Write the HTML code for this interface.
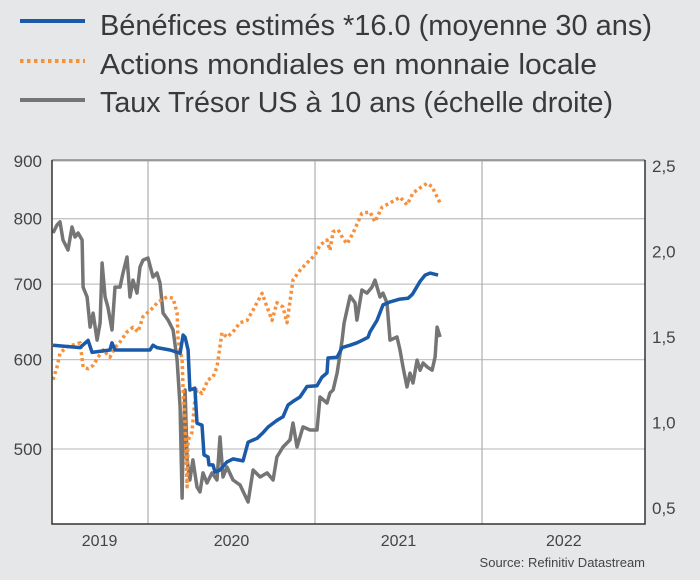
<!DOCTYPE html>
<html><head><meta charset="utf-8"><style>
html,body{margin:0;padding:0;background:#e6e7e9;}
svg{display:block;font-family:"Liberation Sans",sans-serif;}
</style></head><body>
<svg id="chart" width="700" height="580" viewBox="0 0 700 580">
<rect x="0" y="0" width="700" height="580" fill="#e6e7e9"/>
<g>
 <g>
  <line x1="20" y1="21" x2="85" y2="21" stroke="#1a5aa8" stroke-width="4"/>
  <text x="100" y="35" font-size="29" fill="#3a3a3a" textLength="552" lengthAdjust="spacingAndGlyphs">Bénéfices estimés *16.0 (moyenne 30 ans)</text>
 </g>
 <g>
  <line x1="20" y1="61" x2="85" y2="61" stroke="#f7903a" stroke-width="4" stroke-dasharray="3.5,3.5"/>
  <text x="100" y="74" font-size="29" fill="#3a3a3a" textLength="497" lengthAdjust="spacingAndGlyphs">Actions mondiales en monnaie locale</text>
 </g>
 <g>
  <line x1="20" y1="100" x2="85" y2="100" stroke="#757575" stroke-width="4"/>
  <text x="100" y="112" font-size="29" fill="#3a3a3a" textLength="513" lengthAdjust="spacingAndGlyphs">Taux Trésor US à 10 ans (échelle droite)</text>
 </g>
</g>
<rect x="52" y="160" width="593" height="364" fill="#ffffff"/>
<g id="grid"></g>
<g id="series"></g>
<g id="axes"></g>
<text x="645" y="567" font-size="13" fill="#444" text-anchor="end">Source: Refinitiv Datastream</text>
</svg>
<script>
const yearTicks = [2020, 2021, 2022];
const yearLabels = ["2019", "2020", "2021", "2022"];
const yearLabelPos = [2019.71, 2020.5, 2021.5, 2022.49];
const leftTicks = [500, 600, 700, 800, 900];
const rightTicks = [0.5, 1.0, 1.5, 2.0, 2.5];
const rightTickLabels = ["0,5", "1,0", "1,5", "2,0", "2,5"];

const earnDates = [2019.431,2019.593,2019.641,2019.665,2019.772,2019.784,2019.802,2020.012,2020.030,2020.054,2020.132,2020.192,2020.210,2020.222,2020.240,2020.251,2020.281,2020.293,2020.323,2020.335,2020.359,2020.365,2020.389,2020.401,2020.431,2020.473,2020.509,2020.569,2020.599,2020.653,2020.689,2020.719,2020.772,2020.808,2020.838,2020.868,2020.910,2020.952,2021.012,2021.042,2021.072,2021.078,2021.132,2021.162,2021.210,2021.251,2021.281,2021.317,2021.329,2021.371,2021.407,2021.449,2021.509,2021.557,2021.581,2021.587,2021.629,2021.659,2021.689,2021.737];
const earnValues = [618,615,624,609,612,621,612,612,618,615,612,608,631,628,612,564,566,527,525,494,492,484,484,477,479,487,490,488,507,511,517,523,530,534,547,551,556,568,569,579,584,602,603,615,618,621,624,628,635,650,671,675,679,680,685,687,704,713,716,713];

const eqDates = [2019.431,2019.455,2019.473,2019.515,2019.593,2019.611,2019.641,2019.671,2019.701,2019.731,2019.772,2019.802,2019.832,2019.874,2019.910,2019.940,2019.970,2020.030,2020.060,2020.114,2020.150,2020.174,2020.180,2020.204,2020.210,2020.222,2020.234,2020.240,2020.263,2020.281,2020.293,2020.323,2020.359,2020.389,2020.413,2020.443,2020.473,2020.509,2020.551,2020.593,2020.629,2020.683,2020.713,2020.743,2020.772,2020.808,2020.832,2020.868,2020.910,2020.952,2021.000,2021.030,2021.072,2021.090,2021.108,2021.138,2021.168,2021.192,2021.228,2021.281,2021.329,2021.359,2021.401,2021.449,2021.509,2021.551,2021.587,2021.629,2021.671,2021.701,2021.719,2021.749];
const eqValues = [576,591,608,616,621,591,589,593,603,612,603,615,622,635,641,635,655,667,675,682,680,660,624,600,564,527,463,509,517,553,564,560,576,579,591,634,628,635,647,650,664,687,668,650,674,668,647,706,720,731,743,758,766,750,779,782,768,760,777,809,811,795,819,826,836,823,843,852,860,854,843,826];

const tsyDates = [2019.431,2019.455,2019.473,2019.491,2019.521,2019.545,2019.563,2019.581,2019.605,2019.611,2019.635,2019.653,2019.671,2019.695,2019.713,2019.725,2019.743,2019.760,2019.784,2019.802,2019.832,2019.850,2019.874,2019.892,2019.910,2019.934,2019.952,2019.970,2020.000,2020.030,2020.054,2020.072,2020.090,2020.120,2020.150,2020.174,2020.192,2020.204,2020.210,2020.222,2020.234,2020.251,2020.269,2020.293,2020.311,2020.329,2020.353,2020.383,2020.413,2020.431,2020.449,2020.473,2020.509,2020.551,2020.599,2020.629,2020.671,2020.713,2020.749,2020.772,2020.808,2020.850,2020.868,2020.892,2020.928,2020.970,2021.012,2021.030,2021.072,2021.090,2021.108,2021.132,2021.162,2021.174,2021.210,2021.240,2021.251,2021.281,2021.311,2021.341,2021.359,2021.389,2021.407,2021.431,2021.449,2021.491,2021.509,2021.527,2021.551,2021.569,2021.587,2021.611,2021.629,2021.647,2021.671,2021.701,2021.719,2021.731,2021.749];
const tsyValues = [2.108,2.155,2.173,2.067,2.009,2.143,2.085,2.108,2.067,1.792,1.734,1.558,1.640,1.482,1.582,1.933,1.734,1.675,1.541,1.792,1.792,1.874,1.968,1.734,1.833,1.757,1.909,1.950,1.962,1.851,1.874,1.816,1.640,1.599,1.541,1.365,1.091,0.558,0.898,1.190,0.781,0.664,0.781,0.623,0.594,0.705,0.646,0.705,0.664,0.915,0.681,0.740,0.664,0.635,0.535,0.722,0.681,0.705,0.664,0.798,0.857,0.898,0.997,0.857,0.974,0.956,0.956,1.149,1.114,1.173,1.190,1.289,1.482,1.582,1.740,1.699,1.599,1.775,1.757,1.792,1.833,1.734,1.757,1.699,1.482,1.500,1.424,1.325,1.208,1.289,1.231,1.365,1.306,1.348,1.325,1.306,1.383,1.558,1.500];

const X0 = 52, X1 = 645, Y0 = 160, Y1 = 524;
const xMin = 2019.425, xMax = 2022.976;
function xs(d){ return X0 + (d - xMin) / (xMax - xMin) * (X1 - X0); }
function yL(v){ return 449 - 490 * Math.log(v / 500); }
function yR(v){ return 166 + (2.5 - v) * 171; }
const NS = "http://www.w3.org/2000/svg";
function mk(tag, attrs, parent){ const e = document.createElementNS(NS, tag); for (const k in attrs) e.setAttribute(k, attrs[k]); parent.appendChild(e); return e; }

const grid = document.getElementById('grid');
leftTicks.forEach(v => {
  const l = mk('line', {x1:X0, x2:X1, y1:yL(v), y2:yL(v), stroke:'#c4c4c4', 'stroke-width':1.3}, grid);
  
  
});
yearTicks.forEach(d => {
  const l = mk('line', {x1:xs(d), x2:xs(d), y1:Y0, y2:Y1, stroke:'#b4b4b4', 'stroke-width':1.3}, grid);
  
  
});

const series = document.getElementById('series');
function path(dates, vals, yf, attrs, name){
  let d = '';
  dates.forEach((t, i) => { d += (i ? 'L' : 'M') + xs(t).toFixed(1) + ',' + yf(vals[i]).toFixed(1); });
  const p = mk('path', Object.assign({d:d, fill:'none', 'stroke-linejoin':'round'}, attrs), series);
  
  
}
path(tsyDates, tsyValues, yR, {stroke:'#757575', 'stroke-width':3.5}, 'treasury-line');
path(eqDates, eqValues, yL, {stroke:'#f7903a', 'stroke-width':3.5, 'stroke-dasharray':'3,3'}, 'equities-line');
path(earnDates, earnValues, yL, {stroke:'#1a5aa8', 'stroke-width':3.5}, 'earnings-line');

const axes = document.getElementById('axes');
let f = mk('line', {x1:X0, x2:X1, y1:Y0, y2:Y0, stroke:'#8a8a8a', 'stroke-width':1.5}, axes);


f = mk('path', {d:`M${X0},${Y0}V${Y1}H${X1}V${Y0}`, fill:'none', stroke:'#333', 'stroke-width':1.5}, axes);


leftTicks.forEach(v => {
  const t = mk('text', {x:42, y:yL(v)+6, 'font-size':17, fill:'#444', 'text-anchor':'end'}, axes);
  t.textContent = String(v);
  
  
});
rightTicks.forEach((v, i) => {
  const t = mk('text', {x:652, y:yR(v)+6, 'font-size':17, fill:'#444'}, axes);
  t.textContent = rightTickLabels[i];
  
  
});
yearLabels.forEach((s, i) => {
  const t = mk('text', {x:xs(yearLabelPos[i]), y:546, 'font-size':16, fill:'#444', 'text-anchor':'middle'}, axes);
  t.textContent = s;
  
  
});
</script>
</body></html>
